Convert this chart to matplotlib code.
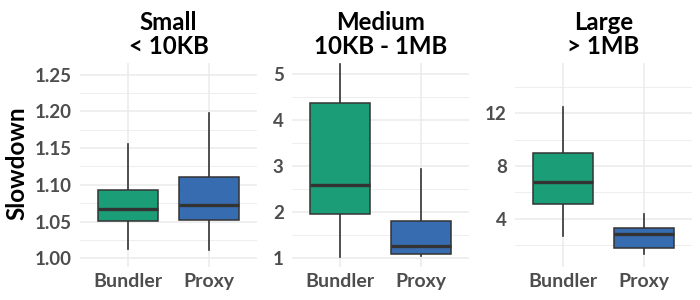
import matplotlib
matplotlib.use("Agg")
import matplotlib.pyplot as plt
from matplotlib.ticker import FixedLocator

plt.rcParams["font.family"] = ["Lato", "DejaVu Sans"]

groups = ["Bundler", "Proxy"]
titles = ["Small\n< 10KB", "Medium\n10KB - 1MB", "Large\n> 1MB"]
colors = ["#1B9E77", "#386CB0"]

whislo = [[1.012, 1.011], [1.02, 1.03], [2.7, 1.32]]
q1 = [[1.051, 1.052], [1.96, 1.08], [5.15, 1.82]]
med = [[1.067, 1.072], [2.59, 1.25], [6.8, 2.83]]
q3 = [[1.093, 1.111], [4.36, 1.81], [9.0, 3.29]]
whishi = [[1.155, 1.198], [5.22, 2.93], [12.5, 4.37]]

ylims = [(0.988, 1.266), (0.80, 5.24), (0.36, 15.8)]
major_ticks = [[1.00, 1.05, 1.10, 1.15, 1.20, 1.25], [1, 2, 3, 4, 5], [4, 8, 12]]
major_labels = [["1.00", "1.05", "1.10", "1.15", "1.20", "1.25"],
                ["1", "2", "3", "4", "5"], ["4", "8", "12"]]
minor_ticks = [[1.025, 1.075, 1.125, 1.175, 1.225],
               [1.5, 2.5, 3.5, 4.5], [2, 6, 10, 14]]

W, H = 700, 300
fig = plt.figure(figsize=(7, 3), dpi=100)
fig.patch.set_facecolor("white")

panel_left = [80, 292, 515]
panel_w = 177
panel_top, panel_bot = 63, 267

grid_c = "#EBEBEB"
text_c = "#4D4D4D"
edge_c = "#333333"

for i in range(3):
    ax = fig.add_axes([panel_left[i] / W, (H - panel_bot) / H,
                       panel_w / W, (panel_bot - panel_top) / H])
    stats = []
    for j in range(2):
        stats.append(dict(whislo=whislo[i][j], q1=q1[i][j], med=med[i][j],
                          q3=q3[i][j], whishi=whishi[i][j], fliers=[]))
    bp = ax.bxp(stats, positions=[1, 2], widths=0.75, patch_artist=True,
                showfliers=False, showcaps=False,
                boxprops=dict(edgecolor=edge_c, linewidth=1.1),
                medianprops=dict(color=edge_c, linewidth=2.4, solid_capstyle="butt"),
                whiskerprops=dict(color=edge_c, linewidth=1.2))
    for patch, c in zip(bp["boxes"], colors):
        patch.set_facecolor(c)
    for w in bp["whiskers"]:
        w.set_zorder(1.5)
    ax.set_xlim(0.4, 2.6)
    ax.set_ylim(*ylims[i])
    ax.set_xticks([1, 2])
    ax.set_xticklabels(groups, fontweight="bold")
    ax.yaxis.set_major_locator(FixedLocator(major_ticks[i]))
    ax.set_yticklabels(major_labels[i], fontweight="bold")
    ax.yaxis.set_minor_locator(FixedLocator(minor_ticks[i]))
    ax.grid(True, which="major", color=grid_c, linewidth=1.1, zorder=0)
    ax.grid(True, which="minor", axis="y", color=grid_c, linewidth=0.6, zorder=0)
    ax.set_axisbelow(True)
    for s in ax.spines.values():
        s.set_visible(False)
    ax.tick_params(which="both", length=0)
    ax.tick_params(axis="y", pad=6, labelsize=13.5, labelcolor=text_c)
    ax.tick_params(axis="x", pad=4, labelsize=14, labelcolor=text_c)
    cx = (panel_left[i] + panel_w / 2) / W
    fig.text(cx, 1 - 58 / H, titles[i], ha="center", va="bottom", fontsize=17.3,
             fontweight="bold", linespacing=1.05, color="black")

fig.text(17 / W, 1 - 163 / H, "Slowdown", rotation=90, ha="center", va="center",
         fontsize=17.5, fontweight="bold", color="black")

fig.savefig("out.png", dpi=100, facecolor="white")
